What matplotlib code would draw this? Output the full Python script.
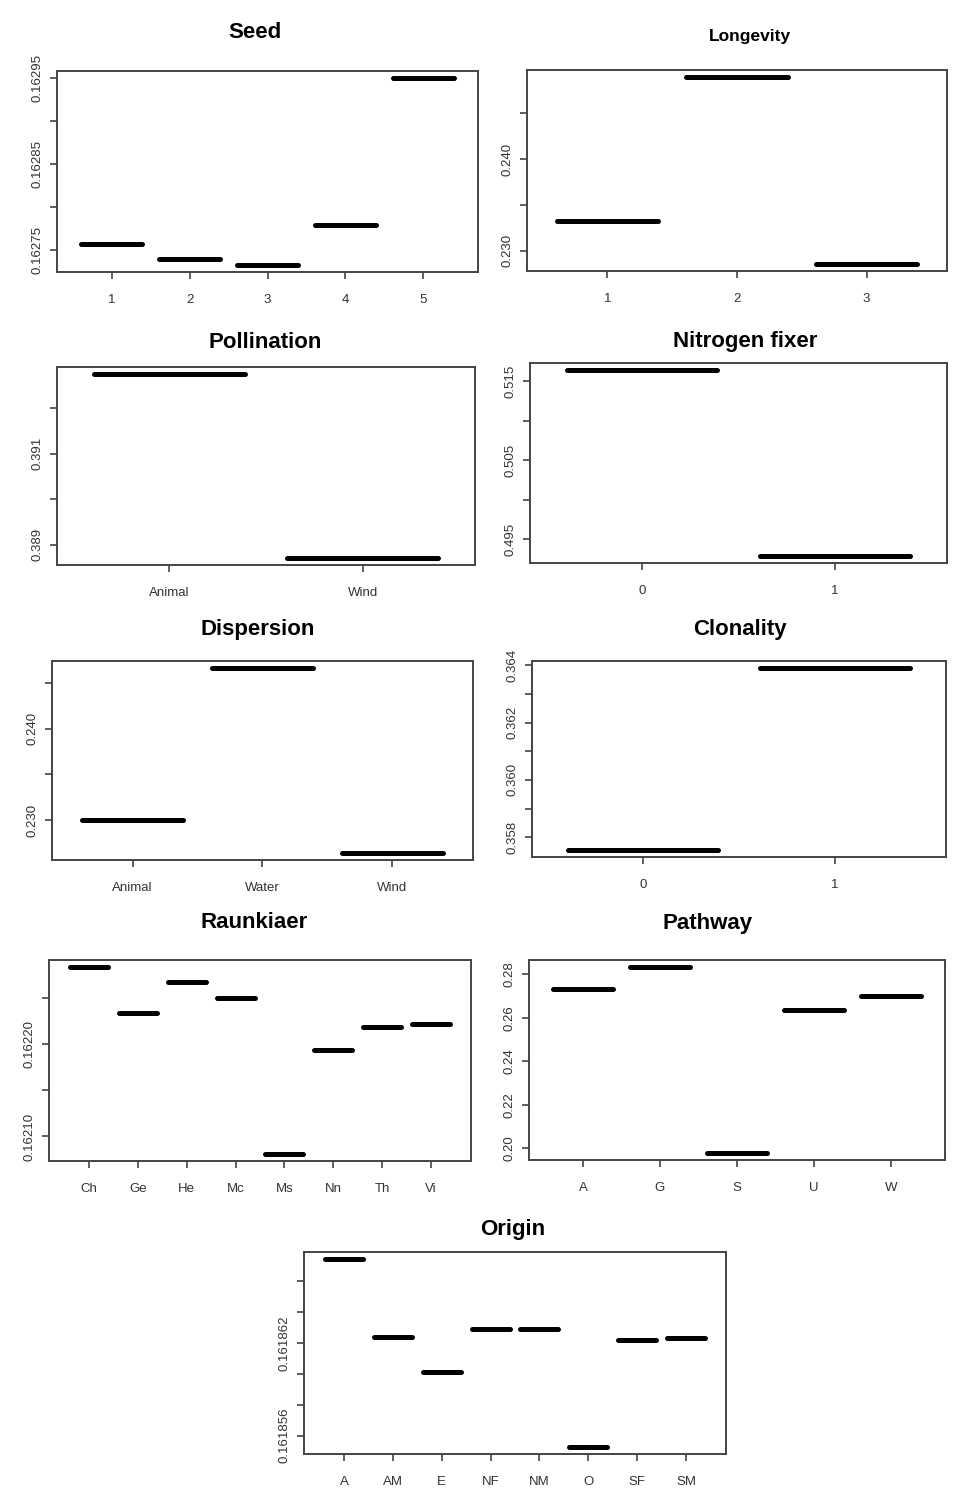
import matplotlib
matplotlib.use('Agg')
import matplotlib.pyplot as plt

plt.rcParams['font.family'] = ['Liberation Sans', 'DejaVu Sans']

W, H = 965, 1492

# group means per trait level
seed_levels = ['1', '2', '3', '4', '5']
seed_vals = [0.1627574, 0.1627400, 0.1627330, 0.1627790, 0.1629500]
seed_ticks = [0.16275, 0.16280, 0.16285, 0.16290, 0.16295]
seed_ticklabels = ['0.16275', '', '0.16285', '', '0.16295']

longevity_levels = ['1', '2', '3']
longevity_vals = [0.23326, 0.24891, 0.22862]
longevity_ticks = [0.230, 0.235, 0.240, 0.245]
longevity_ticklabels = ['0.230', '', '0.240', '']

pollination_levels = ['Animal', 'Wind']
pollination_vals = [0.39274, 0.38872]
pollination_ticks = [0.389, 0.390, 0.391, 0.392]
pollination_ticklabels = ['0.389', '', '0.391', '']

nfix_levels = ['0', '1']
nfix_vals = [0.51639, 0.49294]
nfix_ticks = [0.495, 0.500, 0.505, 0.510, 0.515]
nfix_ticklabels = ['0.495', '', '0.505', '', '0.515']

dispersion_levels = ['Animal', 'Water', 'Wind']
dispersion_vals = [0.23000, 0.24659, 0.22646]
dispersion_ticks = [0.230, 0.235, 0.240, 0.245]
dispersion_ticklabels = ['0.230', '', '0.240', '']

clonality_levels = ['0', '1']
clonality_vals = [0.35756, 0.36390]
clonality_ticks = [0.358, 0.359, 0.360, 0.361, 0.362, 0.363, 0.364]
clonality_ticklabels = ['0.358', '', '0.360', '', '0.362', '', '0.364']

raunkiaer_levels = ['Ch', 'Ge', 'He', 'Mc', 'Ms', 'Nn', 'Th', 'Vi']
raunkiaer_vals = [0.162283, 0.162234, 0.162267, 0.162250,
                  0.1620815, 0.162194, 0.162219, 0.162222]
raunkiaer_ticks = [0.16210, 0.16215, 0.16220, 0.16225]
raunkiaer_ticklabels = ['0.16210', '', '0.16220', '']

pathway_levels = ['A', 'G', 'S', 'U', 'W']
pathway_vals = [0.27304, 0.28311, 0.19796, 0.26357, 0.26988]
pathway_ticks = [0.20, 0.22, 0.24, 0.26, 0.28]
pathway_ticklabels = ['0.20', '0.22', '0.24', '0.26', '0.28']

origin_levels = ['A', 'AM', 'E', 'NF', 'NM', 'O', 'SF', 'SM']
origin_vals = [0.1618674, 0.1618624, 0.1618601, 0.1618629,
               0.1618629, 0.1618553, 0.1618622, 0.1618623]
origin_ticks = [0.161856, 0.161858, 0.161860, 0.161862, 0.161864, 0.161866]
origin_ticklabels = ['0.161856', '', '', '0.161862', '', '']

fig = plt.figure(figsize=(W / 100, H / 100), dpi=100)
fig.patch.set_facecolor('white')

frame_col = '#444444'
label_col = '#333333'


def panel(box, title, title_xy, title_size, levels, vals, ticks, ticklabels):
    l, t, r, b = box
    ax = fig.add_axes([l / W, 1 - b / H, (r - l) / W, (b - t) / H])
    n = len(levels)
    xs = list(range(1, n + 1))
    ax.hlines(vals, [x - 0.39 for x in xs], [x + 0.39 for x in xs],
              colors='black', linewidth=3.6, capstyle='round')
    ax.set_xlim(0.5 - 0.04 * n, n + 0.5 + 0.04 * n)
    lo, hi = min(vals), max(vals)
    pad = 0.04 * (hi - lo)
    ax.set_ylim(lo - pad, hi + pad)
    ax.set_xticks(xs)
    ax.set_xticklabels(levels)
    ax.set_yticks(ticks)
    ax.set_yticklabels(ticklabels, rotation=90, va='center')
    ax.tick_params(axis='x', direction='out', length=5, width=1.2,
                   color=frame_col, labelcolor=label_col, labelsize=9.5, pad=11)
    ax.tick_params(axis='y', direction='out', length=5, width=1.2,
                   color=frame_col, labelcolor=label_col, labelsize=9.5, pad=5)
    for s in ax.spines.values():
        s.set_color(frame_col)
        s.set_linewidth(1.4)
    fig.text(title_xy[0] / W, 1 - title_xy[1] / H, title, ha='center',
             va='center', fontsize=title_size, fontweight='bold')
    return ax


panel((57, 71, 478, 272), 'Seed', (255, 33), 16,
      seed_levels, seed_vals, seed_ticks, seed_ticklabels)
panel((527, 70, 947, 271), 'Longevity', (750, 36), 12.5,
      longevity_levels, longevity_vals, longevity_ticks, longevity_ticklabels)
panel((57, 367, 475, 565), 'Pollination', (265, 342), 16,
      pollination_levels, pollination_vals, pollination_ticks, pollination_ticklabels)
panel((530, 363, 947, 563), 'Nitrogen fixer', (745, 342), 16,
      nfix_levels, nfix_vals, nfix_ticks, nfix_ticklabels)
panel((52, 661, 473, 860), 'Dispersion', (258, 630), 16,
      dispersion_levels, dispersion_vals, dispersion_ticks, dispersion_ticklabels)
panel((532, 661, 946, 857), 'Clonality', (740, 630), 16,
      clonality_levels, clonality_vals, clonality_ticks, clonality_ticklabels)
panel((49, 960, 471, 1161), 'Raunkiaer', (254, 923), 16,
      raunkiaer_levels, raunkiaer_vals, raunkiaer_ticks, raunkiaer_ticklabels)
panel((529, 960, 945, 1160), 'Pathway', (708, 923), 16,
      pathway_levels, pathway_vals, pathway_ticks, pathway_ticklabels)
panel((304, 1252, 726, 1454), 'Origin', (513, 1230), 16,
      origin_levels, origin_vals, origin_ticks, origin_ticklabels)

fig.savefig('out.png', dpi=100, facecolor='white')
